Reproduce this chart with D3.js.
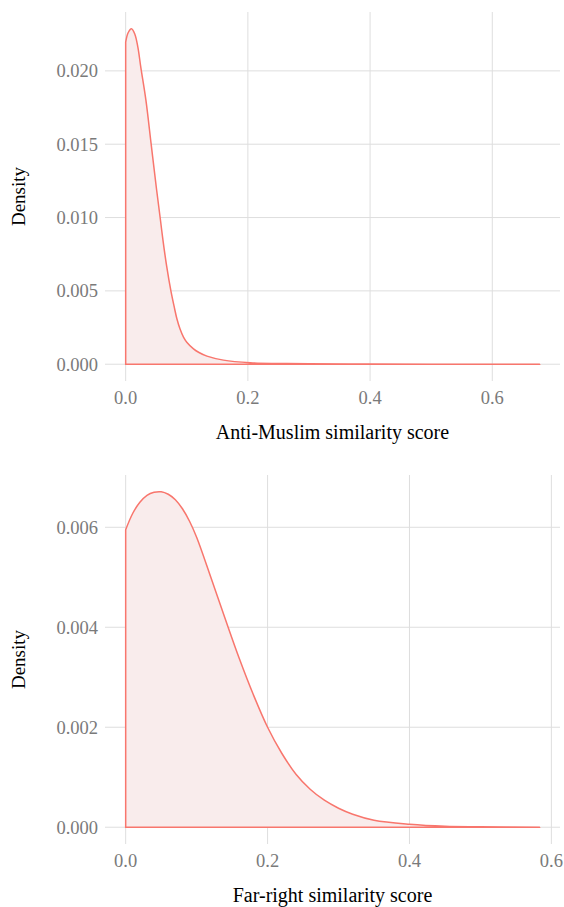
<!DOCTYPE html>
<html>
<head>
<meta charset="utf-8">
<script src="https://cdn.jsdelivr.net/npm/d3@7"></script>
<style>
  body { margin: 0; background: #fff; }
  text { font-family: "Liberation Serif", serif; }
</style>
</head>
<body>
<div id="wrapper"></div>
<script>
// density curves (score, density)
const antiMuslimScore   = [0, 0.004, 0.0095, 0.015, 0.02, 0.0249, 0.0331, 0.0417, 0.05, 0.057, 0.0609, 0.067, 0.074, 0.08, 0.0838, 0.089, 0.0946, 0.1, 0.111, 0.12, 0.133, 0.16, 0.204, 0.25, 0.3, 0.4, 0.5, 0.6, 0.677];
const antiMuslimDensity = [0.02196, 0.0226, 0.02287, 0.0225, 0.0216, 0.0202, 0.0180, 0.0150, 0.0121, 0.0098, 0.0085, 0.0067, 0.0050, 0.0038, 0.0031, 0.0024, 0.00185, 0.0015, 0.00105, 0.0008, 0.00055, 0.00028, 0.0001, 0.00005, 0.00003, 0.00001, 0.000005, 0.000002, 0];

const farRightScore   = [0, 0.01, 0.02, 0.03, 0.04, 0.05, 0.06, 0.07, 0.08, 0.09, 0.1, 0.12, 0.14, 0.16, 0.18, 0.2, 0.22, 0.24, 0.26, 0.28, 0.3, 0.32, 0.35, 0.4, 0.45, 0.5, 0.583];
const farRightDensity = [0.00595, 0.00628, 0.0065, 0.00664, 0.0067, 0.00671, 0.00666, 0.00655, 0.00637, 0.00612, 0.0058, 0.005, 0.00418, 0.00338, 0.00265, 0.002, 0.00148, 0.00106, 0.00076, 0.00054, 0.00038, 0.00026, 0.00014, 0.00006, 0.00002, 0.00001, 0];

const antiMuslimYTicks = [0, 0.005, 0.01, 0.015, 0.02];
const farRightYTicks = [0, 0.002, 0.004, 0.006];
const xTicks = [0, 0.2, 0.4, 0.6];

const panels = [
  {score: antiMuslimScore, dens: antiMuslimDensity, yTicks: antiMuslimYTicks, title: "Anti-Muslim similarity score", top: 12, bottom: 381},
  {score: farRightScore, dens: farRightDensity, yTicks: farRightYTicks, title: "Far-right similarity score", top: 475, bottom: 844}
];

const dimensions = {width: 564, height: 907, left: 105, right: 560};

const svg = d3.select("#wrapper").append("svg")
  .attr("width", dimensions.width)
  .attr("height", dimensions.height);

panels.forEach(p => {
  const data = p.score.map((s, i) => ({x: s, y: p.dens[i]}));

  // ggplot style 5% expansion
  const xMax = d3.max(p.score), yMax = d3.max(p.dens);
  const xScale = d3.scaleLinear()
    .domain([-0.05 * xMax, 1.05 * xMax])
    .range([dimensions.left, dimensions.right]);
  const yScale = d3.scaleLinear()
    .domain([-0.05 * yMax, 1.05 * yMax])
    .range([p.bottom, p.top]);

  const g = svg.append("g");

  // grid
  g.selectAll(".hgrid").data(p.yTicks).join("line")
    .attr("x1", dimensions.left).attr("x2", dimensions.right)
    .attr("y1", d => yScale(d)).attr("y2", d => yScale(d))
    .attr("stroke", "#dedede").attr("stroke-width", 1);
  g.selectAll(".vgrid").data(xTicks).join("line")
    .attr("x1", d => xScale(d)).attr("x2", d => xScale(d))
    .attr("y1", p.top).attr("y2", p.bottom)
    .attr("stroke", "#dedede").attr("stroke-width", 1);

  // density polygon
  const curve = d3.curveCatmullRom.alpha(0.5);
  const area = d3.area()
    .x(d => xScale(d.x)).y0(yScale(0)).y1(d => yScale(Math.max(0, d.y)))
    .curve(curve);
  g.append("path").datum(data)
    .attr("d", area)
    .attr("fill", "#f9ecec");

  const line = d3.line().x(d => xScale(d.x)).y(d => yScale(d.y)).curve(curve);
  g.append("path").datum(data)
    .attr("d", line(data) + "L" + xScale(xMax) + "," + yScale(0) + "L" + xScale(0) + "," + yScale(0) + "Z")
    .attr("fill", "none").attr("stroke", "#F8766D").attr("stroke-width", 1.5);

  // tick labels
  g.selectAll(".ylab").data(p.yTicks).join("text")
    .attr("x", 98).attr("y", d => yScale(d))
    .attr("dy", "0.35em")
    .attr("text-anchor", "end")
    .attr("font-size", 18.5).attr("fill", "#7a7a7a")
    .text(d => d3.format(".3f")(d));
  g.selectAll(".xlab").data(xTicks).join("text")
    .attr("x", d => xScale(d)).attr("y", p.bottom + 23)
    .attr("text-anchor", "middle")
    .attr("font-size", 18.5).attr("fill", "#7a7a7a")
    .text(d => d3.format(".1f")(d));

  // axis titles
  g.append("text")
    .attr("transform", `translate(25,${(p.top + p.bottom) / 2}) rotate(-90)`)
    .attr("text-anchor", "middle")
    .attr("font-size", 19).attr("fill", "#000")
    .text("Density");
  g.append("text")
    .attr("x", (dimensions.left + dimensions.right) / 2).attr("y", p.bottom + 58)
    .attr("text-anchor", "middle")
    .attr("font-size", 20).attr("fill", "#000")
    .text(p.title);
});
</script>
</body>
</html>
